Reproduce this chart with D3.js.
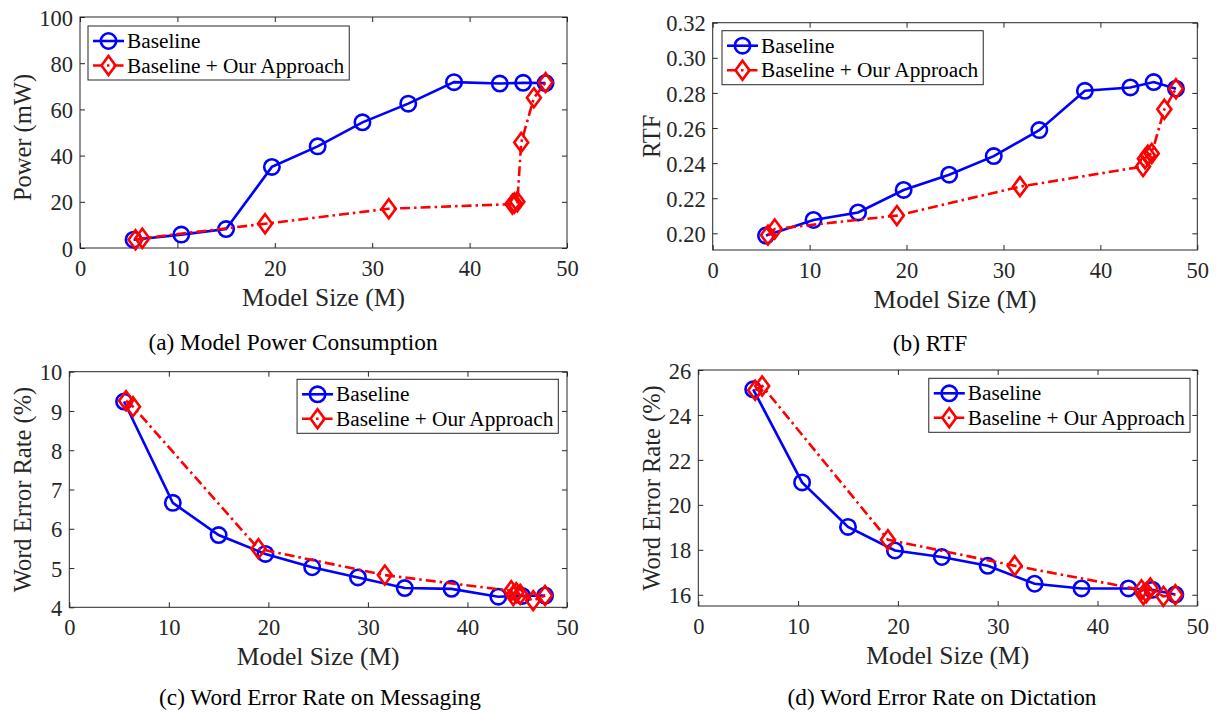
<!DOCTYPE html>
<html>
<head>
<meta charset="utf-8">
<script src="https://cdn.jsdelivr.net/npm/d3@7"></script>
<style>
  html, body { margin: 0; padding: 0; background: #fff; }
  svg { display: block; font-family: "Liberation Serif", "Times New Roman", serif; }
</style>
</head>
<body>
<svg id="chart" width="1218" height="713"></svg>
<script>
// ---------------- DATA ----------------
const modelSizeBaseline = [5.5, 10.4, 15.0, 19.7, 24.4, 29.0, 33.7, 38.4, 43.1, 45.5, 47.8];
const modelSizeOurs     = [5.7, 6.4, 19.0, 31.7, 44.4, 44.6, 44.9, 45.3, 46.6, 47.8];

const powerBaseline = [3.6, 5.8, 8.2, 35.1, 44.0, 54.4, 62.5, 71.8, 71.2, 71.5, 71.4];
const powerOurs     = [3.6, 4.2, 10.5, 17.0, 19.0, 19.5, 20.0, 45.7, 65.0, 71.6];

const rtfBaseline = [0.1987, 0.2076, 0.2119, 0.2247, 0.2334, 0.2440, 0.2588, 0.2812, 0.2831, 0.2862, 0.2824];
const rtfOurs     = [0.1990, 0.2025, 0.2101, 0.2266, 0.2381, 0.2425, 0.2445, 0.2455, 0.2707, 0.2824];

const werMsgBaseline = [9.24, 6.66, 5.84, 5.36, 5.02, 4.76, 4.49, 4.47, 4.27, 4.29, 4.30];
const werMsgOurs     = [9.26, 9.11, 5.49, 4.82, 4.42, 4.30, 4.37, 4.33, 4.17, 4.30];

const werDictBaseline = [25.14, 21.00, 19.02, 17.97, 17.68, 17.29, 16.49, 16.28, 16.28, 16.22, 16.01];
const werDictOurs     = [25.10, 25.29, 18.45, 17.29, 16.22, 16.00, 16.10, 16.30, 15.93, 16.00];

const xTicks        = [0, 10, 20, 30, 40, 50];
const powerTicks    = [0, 20, 40, 60, 80, 100];
const rtfTicks      = [0.20, 0.22, 0.24, 0.26, 0.28, 0.30, 0.32];
const werMsgTicks   = [4, 5, 6, 7, 8, 9, 10];
const werDictTicks  = [16, 18, 20, 22, 24, 26];

const seriesNames = ["Baseline", "Baseline + Our Approach"];
const xLabel = "Model Size (M)";

// ---------------- LAYOUT ----------------
const svg = d3.select("#chart");
const AX = "#262626";
const BLUE = "#0000ff", RED = "#ff0000";

const panels = [
  { box: {l: 80, r: 567, t: 17, b: 248}, yDomain: [0, 100], yTicks: powerTicks, yFmt: d3.format("d"),
    yB: powerBaseline, yO: powerOurs, yLabel: "Power (mW)", yLabelX: 22, yLabelDy: 5,
    caption: "(a) Model Power Consumption", capX: 293, capY: 350,
    legend: {side: "left", dx: 8, dy: 9} },
  { box: {l: 712.7, r: 1197.3, t: 22.7, b: 250}, yDomain: [0.1905, 0.32], yTicks: rtfTicks, yFmt: d3.format(".2f"),
    yB: rtfBaseline, yO: rtfOurs, yLabel: "RTF", yLabelX: 651, yLabelDy: 0,
    caption: "(b) RTF", capX: 930, capY: 351,
    legend: {side: "left", dx: 9.3, dy: 8} },
  { box: {l: 69.3, r: 567, t: 371.7, b: 607.3}, yDomain: [4, 10], yTicks: werMsgTicks, yFmt: d3.format("d"),
    yB: werMsgBaseline, yO: werMsgOurs, yLabel: "Word Error Rate (%)", yLabelX: 22, yLabelDy: 0,
    caption: "(c) Word Error Rate on Messaging", capX: 320, capY: 705,
    legend: {side: "right", dx: 8.7, dy: 7.6} },
  { box: {l: 698.3, r: 1197.3, t: 370, b: 606}, yDomain: [15.5, 26], yTicks: werDictTicks, yFmt: d3.format("d"),
    yB: werDictBaseline, yO: werDictOurs, yLabel: "Word Error Rate (%)", yLabelX: 651, yLabelDy: 0,
    caption: "(d) Word Error Rate on Dictation", capX: 942, capY: 705,
    legend: {side: "right", dx: 7.3, dy: 8.3} }
];

const TICK = 5;
const diamondPath = "M0,-9.5 L7,0 L0,9.5 L-7,0 Z";

function drawMarkers(g, pts, kind, color) {
  if (kind === "circle") {
    g.selectAll(null).data(pts).enter().append("circle")
      .attr("cx", d => d[0]).attr("cy", d => d[1]).attr("r", 7.7)
      .attr("fill", "none").attr("stroke", color).attr("stroke-width", 2.6);
  } else {
    g.selectAll(null).data(pts).enter().append("path")
      .attr("d", diamondPath)
      .attr("transform", d => `translate(${d[0]},${d[1]})`)
      .attr("fill", "none").attr("stroke", color).attr("stroke-width", 2.6);
  }
}

panels.forEach(p => {
  const B = p.box;
  const x = d3.scaleLinear().domain([0, 50]).range([B.l, B.r]);
  const y = d3.scaleLinear().domain(p.yDomain).range([B.b, B.t]);
  const g = svg.append("g");

  // axes box
  g.append("rect").attr("x", B.l).attr("y", B.t).attr("width", B.r - B.l).attr("height", B.b - B.t)
    .attr("fill", "none").attr("stroke", AX).attr("stroke-width", 1);

  const xb = d3.axisBottom(x).tickValues(xTicks).tickSize(-TICK).tickPadding(12).tickFormat(d3.format("d"));
  const gxb = g.append("g").attr("transform", `translate(0,${B.b})`).call(xb);
  const xt = d3.axisTop(x).tickValues(xTicks).tickSize(-TICK).tickFormat("");
  const gxt = g.append("g").attr("transform", `translate(0,${B.t})`).call(xt);
  const yl = d3.axisLeft(y).tickValues(p.yTicks).tickSize(-TICK).tickPadding(7).tickFormat(p.yFmt);
  const gyl = g.append("g").attr("transform", `translate(${B.l},0)`).call(yl);
  const yr = d3.axisRight(y).tickValues(p.yTicks).tickSize(-TICK).tickFormat("");
  const gyr = g.append("g").attr("transform", `translate(${B.r},0)`).call(yr);
  [gxb, gxt, gyl, gyr].forEach(a => {
    a.select(".domain").remove();
    a.selectAll(".tick line").attr("stroke", AX).attr("stroke-width", 1);
    a.selectAll(".tick text").attr("fill", AX).style("font-size", "22.5px")
      .style("font-family", '"Liberation Serif", "Times New Roman", serif');
  });
  gxb.selectAll(".tick text").attr("dy", "0.72em");
  gyl.selectAll(".tick text").attr("dy", "0.36em");

  // axis labels
  g.append("text").attr("x", (B.l + B.r) / 2).attr("y", B.b + 58)
    .attr("text-anchor", "middle").attr("fill", AX).style("font-size", "25.5px").text(xLabel);
  g.append("text")
    .attr("transform", `translate(${p.yLabelX},${(B.t + B.b) / 2 + p.yLabelDy}) rotate(-90)`)
    .attr("text-anchor", "middle").attr("dy", "0.35em").attr("fill", AX)
    .style("font-size", "24.5px").text(p.yLabel);

  // caption
  g.append("text").attr("x", p.capX).attr("y", p.capY).attr("text-anchor", "middle")
    .attr("fill", "#000").style("font-size", "23.3px").text(p.caption);

  // series
  const ptsB = modelSizeBaseline.map((v, i) => [x(v), y(p.yB[i])]);
  const ptsO = modelSizeOurs.map((v, i) => [x(v), y(p.yO[i])]);
  const line = d3.line();
  g.append("path").attr("d", line(ptsB)).attr("fill", "none").attr("stroke", BLUE).attr("stroke-width", 2.6);
  drawMarkers(g, ptsB, "circle", BLUE);
  g.append("path").attr("d", line(ptsO)).attr("fill", "none").attr("stroke", RED).attr("stroke-width", 2.6)
    .attr("stroke-dasharray", "10,4,2.5,4");
  drawMarkers(g, ptsO, "diamond", RED);

  // legend
  const lg = g.append("g");
  const bg = lg.append("rect").attr("fill", "#fff").attr("stroke", AX).attr("stroke-width", 1);
  const texts = [];
  seriesNames.forEach((name, i) => {
    const ry = 15 + i * 24.5;
    const color = i === 0 ? BLUE : RED;
    lg.append("line").attr("x1", 5).attr("x2", 36).attr("y1", ry).attr("y2", ry)
      .attr("stroke", color).attr("stroke-width", 2.6)
      .attr("stroke-dasharray", i === 0 ? null : "10,4,2.5,4");
    drawMarkers(lg, [[20.5, ry]], i === 0 ? "circle" : "diamond", color);
    texts.push(lg.append("text").attr("x", 39).attr("y", ry).attr("dy", "0.33em")
      .attr("fill", "#000").style("font-size", "21.3px").text(name));
  });
  const maxW = d3.max(texts, t => t.node().getComputedTextLength());
  const w = 39 + maxW + 5, h = 54;
  bg.attr("x", 0).attr("y", 0).attr("width", w).attr("height", h);
  const lx = p.legend.side === "left" ? B.l + p.legend.dx : B.r - p.legend.dx - w;
  lg.attr("transform", `translate(${lx},${B.t + p.legend.dy})`);
});
</script>
</body>
</html>
